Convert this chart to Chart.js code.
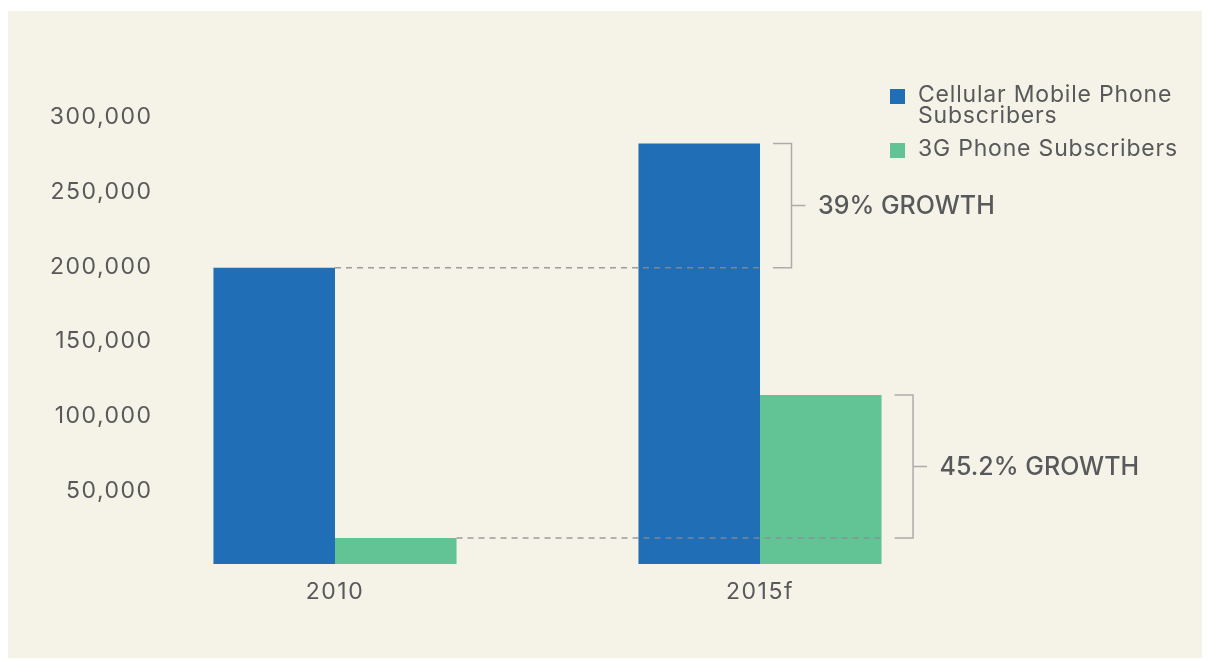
<!DOCTYPE html>
<html>
<head>
<meta charset="utf-8">
<script src="https://cdn.jsdelivr.net/npm/chart.js@4.4.1/dist/chart.umd.min.js"></script>
<style>
body { margin: 0; background: #fff; }
#panel { position: absolute; left: 8px; top: 11px; width: 1194px; height: 647px; background: #f5f3e7; }
</style>
</head>
<body>
<div id="panel"><canvas id="canvas_grafica" width="1194" height="647"></canvas></div>
<script>
const anios = ['2010', '2015f'];
const celulares = [198000, 281000];
const terceraGen = [17400, 113000];
const leyenda = [['Cellular Mobile Phone', 'Subscribers'], ['3G Phone Subscribers']];
const crecimiento = ['39% GROWTH', '45.2% GROWTH'];
const colores = ['#1f6eb6', '#62c394'];
const gris = '#58595b';
const fuente = 'Inter, "Open Sans", sans-serif';
const espaciado = 1.5;

let canvas_graf = document.getElementById('canvas_grafica');

// ancho de la etiqueta mas larga, para alinear las etiquetas del eje y a la derecha
let medidor = canvas_graf.getContext('2d');
medidor.font = '23px ' + fuente;
let anchoEtiqueta = medidor.measureText('300,000').width;

// texto de los ejes un poco mas abierto
const espaciadoEjes = {
    id: 'espaciadoEjes',
    beforeDraw(chart) {
        chart.ctx.letterSpacing = espaciado + 'px';
    }
};

// lineas punteadas, corchetes de crecimiento y leyenda
const extras = {
    id: 'extras',
    afterDatasetsDraw(chart) {
        let ctx = chart.ctx;
        let y = chart.scales.y;
        let series = [celulares, terceraGen];
        ctx.save();
        ctx.letterSpacing = '0px';
        series.forEach((valores, i) => {
            let barras = chart.getDatasetMeta(i).data;
            let y0 = y.getPixelForValue(valores[0]);
            let y1 = y.getPixelForValue(valores[1]);
            let x0 = barras[0].x + barras[0].width / 2;
            let x1 = barras[1].x + barras[1].width / 2;
            let medio = (y0 + y1) / 2;

            ctx.setLineDash([6, 5]);
            ctx.strokeStyle = 'rgba(140, 140, 140, 0.85)';
            ctx.lineWidth = 1.5;
            ctx.beginPath();
            ctx.moveTo(x0, y0);
            ctx.lineTo(x1, y0);
            ctx.stroke();

            ctx.setLineDash([]);
            ctx.strokeStyle = '#acacac';
            let bx = x1 + 31.5;
            ctx.beginPath();
            ctx.moveTo(x1 + 13, y1);
            ctx.lineTo(bx, y1);
            ctx.lineTo(bx, y0);
            ctx.lineTo(x1 + 13, y0);
            ctx.moveTo(bx, medio);
            ctx.lineTo(x1 + 45.5, medio);
            ctx.stroke();

            ctx.fillStyle = gris;
            ctx.font = '500 25px ' + fuente;
            ctx.textBaseline = 'middle';
            ctx.fillText(crecimiento[i], x1 + 58, medio + 1);
        });

        let top = [78, 132];
        ctx.font = '23px ' + fuente;
        ctx.letterSpacing = '0.8px';
        ctx.textBaseline = 'alphabetic';
        leyenda.forEach((lineas, i) => {
            ctx.fillStyle = colores[i];
            ctx.fillRect(882, top[i], 15, 15);
            ctx.fillStyle = gris;
            lineas.forEach((t, j) => ctx.fillText(t, 910, top[i] + 13 + j * 21));
        });
        ctx.restore();
    }
};

new Chart(canvas_graf, {
    type: 'bar',
    data: {
        labels: anios,
        datasets: [{
            label: leyenda[0].join(' '),
            data: celulares,
            backgroundColor: colores[0],
            borderWidth: 0,
            barPercentage: 1,
            categoryPercentage: 0.572
        }, {
            label: leyenda[1].join(' '),
            data: terceraGen,
            backgroundColor: colores[1],
            borderWidth: 0,
            barPercentage: 1,
            categoryPercentage: 0.572
        }]
    },
    options: {
        responsive: false,
        animation: false,
        layout: { padding: { top: 104, left: 8, right: 229.5, bottom: 44 } },
        plugins: {
            legend: { display: false },
            tooltip: { enabled: false }
        },
        scales: {
            x: {
                grid: { display: false, drawTicks: false },
                border: { display: false },
                ticks: { color: gris, font: { family: fuente, size: 23 }, padding: 14 },
                afterFit(s) { s.height = 50; }
            },
            y: {
                min: 0,
                max: 300000,
                grid: { display: false, drawTicks: false },
                border: { display: false },
                ticks: {
                    stepSize: 50000,
                    mirror: true,
                    crossAlign: 'far',
                    labelOffset: 2,
                    padding: 28.5 + espaciado - anchoEtiqueta,
                    color: gris,
                    font: { family: fuente, size: 23 },
                    callback: v => v === 0 ? '' : v.toLocaleString('en-US')
                },
                afterFit(s) { s.width = 106.5; }
            }
        }
    },
    plugins: [espaciadoEjes, extras]
});
</script>
</body>
</html>
